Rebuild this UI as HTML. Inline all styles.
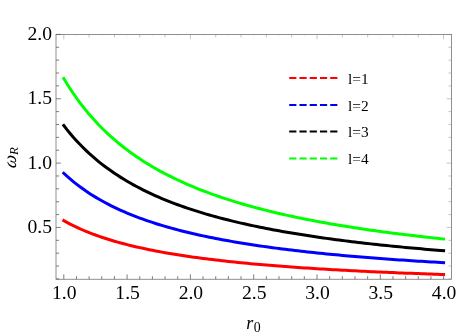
<!DOCTYPE html><html><head><meta charset="utf-8"><style>html,body{margin:0;padding:0;background:#fff}svg{display:block;will-change:transform}text{font-family:"Liberation Serif",serif;fill:#000}</style></head><body>
<svg width="458" height="335" viewBox="0 0 458 335">
<rect width="458" height="335" fill="#fff"/>
<polyline points="63.80,220.63 66.96,222.38 70.13,224.05 73.29,225.64 76.46,227.16 79.62,228.61 82.79,230.00 85.95,231.34 89.12,232.61 92.29,233.84 95.45,235.01 98.61,236.14 101.78,237.23 104.94,238.28 108.11,239.29 111.27,240.26 114.44,241.20 117.60,242.10 120.77,242.97 123.94,243.82 127.10,244.63 130.26,245.42 133.43,246.19 136.60,246.93 139.76,247.65 142.93,248.34 146.09,249.02 149.25,249.67 152.42,250.31 155.59,250.92 158.75,251.52 161.91,252.11 165.08,252.67 168.25,253.22 171.41,253.76 174.57,254.28 177.74,254.79 180.91,255.29 184.07,255.77 187.24,256.24 190.40,256.70 193.57,257.14 196.73,257.58 199.90,258.01 203.06,258.42 206.22,258.83 209.39,259.22 212.55,259.61 215.72,259.99 218.88,260.36 222.05,260.72 225.22,261.07 228.38,261.42 231.55,261.76 234.71,262.09 237.88,262.41 241.04,262.73 244.20,263.04 247.37,263.35 250.54,263.64 253.70,263.93 256.87,264.22 260.03,264.50 263.19,264.78 266.36,265.04 269.52,265.31 272.69,265.57 275.85,265.82 279.02,266.07 282.19,266.31 285.35,266.55 288.52,266.79 291.68,267.02 294.85,267.25 298.01,267.47 301.18,267.69 304.34,267.90 307.50,268.11 310.67,268.32 313.83,268.52 317.00,268.72 320.16,268.92 323.33,269.11 326.50,269.30 329.66,269.48 332.82,269.67 335.99,269.85 339.16,270.02 342.32,270.20 345.49,270.37 348.65,270.53 351.81,270.70 354.98,270.86 358.15,271.02 361.31,271.18 364.48,271.33 367.64,271.49 370.81,271.63 373.97,271.78 377.13,271.93 380.30,272.07 383.47,272.21 386.63,272.35 389.80,272.48 392.96,272.62 396.12,272.75 399.29,272.88 402.46,273.00 405.62,273.13 408.79,273.25 411.95,273.37 415.12,273.49 418.28,273.61 421.44,273.73 424.61,273.84 427.77,273.95 430.94,274.06 434.11,274.17 437.27,274.28 440.44,274.39 443.60,274.49" fill="none" stroke="#ff0000" stroke-width="3" stroke-linejoin="round" stroke-linecap="square"/>
<polyline points="63.80,173.27 66.96,176.17 70.13,178.94 73.29,181.58 76.46,184.11 79.62,186.52 82.79,188.82 85.95,191.03 89.12,193.15 92.29,195.18 95.45,197.12 98.61,199.00 101.78,200.80 104.94,202.53 108.11,204.20 111.27,205.81 114.44,207.37 117.60,208.86 120.77,210.31 123.94,211.71 127.10,213.06 130.26,214.37 133.43,215.63 136.60,216.86 139.76,218.05 142.93,219.20 146.09,220.31 149.25,221.40 152.42,222.45 155.59,223.47 158.75,224.46 161.91,225.42 165.08,226.36 168.25,227.27 171.41,228.16 174.57,229.02 177.74,229.86 180.91,230.68 184.07,231.48 187.24,232.26 190.40,233.02 193.57,233.76 196.73,234.48 199.90,235.18 203.06,235.87 206.22,236.54 209.39,237.20 212.55,237.84 215.72,238.46 218.88,239.07 222.05,239.67 225.22,240.26 228.38,240.83 231.55,241.39 234.71,241.94 237.88,242.47 241.04,243.00 244.20,243.51 247.37,244.01 250.54,244.51 253.70,244.99 256.87,245.46 260.03,245.93 263.19,246.38 266.36,246.83 269.52,247.27 272.69,247.69 275.85,248.12 279.02,248.53 282.19,248.93 285.35,249.33 288.52,249.72 291.68,250.10 294.85,250.48 298.01,250.85 301.18,251.21 304.34,251.57 307.50,251.92 310.67,252.26 313.83,252.60 317.00,252.93 320.16,253.26 323.33,253.58 326.50,253.90 329.66,254.21 332.82,254.51 335.99,254.81 339.16,255.11 342.32,255.40 345.49,255.68 348.65,255.96 351.81,256.24 354.98,256.51 358.15,256.78 361.31,257.04 364.48,257.30 367.64,257.56 370.81,257.81 373.97,258.05 377.13,258.30 380.30,258.54 383.47,258.77 386.63,259.01 389.80,259.23 392.96,259.46 396.12,259.68 399.29,259.90 402.46,260.12 405.62,260.33 408.79,260.54 411.95,260.74 415.12,260.95 418.28,261.15 421.44,261.35 424.61,261.54 427.77,261.73 430.94,261.92 434.11,262.11 437.27,262.29 440.44,262.47 443.60,262.65" fill="none" stroke="#0000ff" stroke-width="3" stroke-linejoin="round" stroke-linecap="square"/>
<polyline points="63.80,125.52 66.96,129.59 70.13,133.47 73.29,137.17 76.46,140.70 79.62,144.07 82.79,147.30 85.95,150.39 89.12,153.36 92.29,156.20 95.45,158.93 98.61,161.55 101.78,164.07 104.94,166.50 108.11,168.83 111.27,171.09 114.44,173.26 117.60,175.36 120.77,177.38 123.94,179.34 127.10,181.23 130.26,183.06 133.43,184.83 136.60,186.54 139.76,188.20 142.93,189.81 146.09,191.37 149.25,192.89 152.42,194.36 155.59,195.79 158.75,197.17 161.91,198.52 165.08,199.83 168.25,201.11 171.41,202.35 174.57,203.56 177.74,204.73 180.91,205.88 184.07,206.99 187.24,208.08 190.40,209.14 193.57,210.18 196.73,211.19 199.90,212.17 203.06,213.13 206.22,214.07 209.39,214.99 212.55,215.88 215.72,216.76 218.88,217.61 222.05,218.45 225.22,219.27 228.38,220.07 231.55,220.85 234.71,221.62 237.88,222.37 241.04,223.10 244.20,223.82 247.37,224.53 250.54,225.22 253.70,225.89 256.87,226.55 260.03,227.20 263.19,227.84 266.36,228.46 269.52,229.08 272.69,229.68 275.85,230.27 279.02,230.84 282.19,231.41 285.35,231.97 288.52,232.51 291.68,233.05 294.85,233.58 298.01,234.10 301.18,234.60 304.34,235.10 307.50,235.59 310.67,236.08 313.83,236.55 317.00,237.02 320.16,237.47 323.33,237.92 326.50,238.37 329.66,238.80 332.82,239.23 335.99,239.65 339.16,240.07 342.32,240.47 345.49,240.88 348.65,241.27 351.81,241.66 354.98,242.04 358.15,242.42 361.31,242.79 364.48,243.15 367.64,243.51 370.81,243.87 373.97,244.21 377.13,244.56 380.30,244.89 383.47,245.23 386.63,245.56 389.80,245.88 392.96,246.20 396.12,246.51 399.29,246.82 402.46,247.12 405.62,247.42 408.79,247.72 411.95,248.01 415.12,248.30 418.28,248.58 421.44,248.86 424.61,249.14 427.77,249.41 430.94,249.68 434.11,249.94 437.27,250.20 440.44,250.46 443.60,250.71" fill="none" stroke="#000000" stroke-width="3" stroke-linejoin="round" stroke-linecap="square"/>
<polyline points="63.80,78.54 66.96,83.76 70.13,88.73 73.29,93.47 76.46,97.99 79.62,102.32 82.79,106.45 85.95,110.41 89.12,114.21 92.29,117.85 95.45,121.35 98.61,124.71 101.78,127.94 104.94,131.04 108.11,134.04 111.27,136.92 114.44,139.71 117.60,142.39 120.77,144.98 123.94,147.49 127.10,149.91 130.26,152.25 133.43,154.52 136.60,156.72 139.76,158.84 142.93,160.90 146.09,162.90 149.25,164.84 152.42,166.73 155.59,168.56 158.75,170.33 161.91,172.06 165.08,173.74 168.25,175.37 171.41,176.96 174.57,178.50 177.74,180.01 180.91,181.48 184.07,182.90 187.24,184.30 190.40,185.65 193.57,186.98 196.73,188.27 199.90,189.53 203.06,190.76 206.22,191.96 209.39,193.14 212.55,194.29 215.72,195.41 218.88,196.50 222.05,197.57 225.22,198.62 228.38,199.64 231.55,200.65 234.71,201.63 237.88,202.59 241.04,203.53 244.20,204.45 247.37,205.35 250.54,206.24 253.70,207.10 256.87,207.95 260.03,208.78 263.19,209.60 266.36,210.40 269.52,211.18 272.69,211.95 275.85,212.70 279.02,213.45 282.19,214.17 285.35,214.89 288.52,215.59 291.68,216.27 294.85,216.95 298.01,217.61 301.18,218.27 304.34,218.91 307.50,219.53 310.67,220.15 313.83,220.76 317.00,221.36 320.16,221.95 323.33,222.52 326.50,223.09 329.66,223.65 332.82,224.20 335.99,224.74 339.16,225.27 342.32,225.79 345.49,226.31 348.65,226.82 351.81,227.32 354.98,227.81 358.15,228.29 361.31,228.77 364.48,229.23 367.64,229.70 370.81,230.15 373.97,230.60 377.13,231.04 380.30,231.47 383.47,231.90 386.63,232.32 389.80,232.74 392.96,233.15 396.12,233.55 399.29,233.95 402.46,234.34 405.62,234.73 408.79,235.11 411.95,235.48 415.12,235.86 418.28,236.22 421.44,236.58 424.61,236.94 427.77,237.29 430.94,237.63 434.11,237.97 437.27,238.31 440.44,238.64 443.60,238.97" fill="none" stroke="#00ff00" stroke-width="3" stroke-linejoin="round" stroke-linecap="square"/>
<rect x="56.0" y="34.4" width="395.5" height="244.85" fill="none" stroke="#747474" stroke-width="0.8"/>
<path d="M63.80 279.25v-4.9 M76.46 279.25v-3.1 M89.12 279.25v-3.1 M101.78 279.25v-3.1 M114.44 279.25v-3.1 M127.10 279.25v-4.9 M139.76 279.25v-3.1 M152.42 279.25v-3.1 M165.08 279.25v-3.1 M177.74 279.25v-3.1 M190.40 279.25v-4.9 M203.06 279.25v-3.1 M215.72 279.25v-3.1 M228.38 279.25v-3.1 M241.04 279.25v-3.1 M253.70 279.25v-4.9 M266.36 279.25v-3.1 M279.02 279.25v-3.1 M291.68 279.25v-3.1 M304.34 279.25v-3.1 M317.00 279.25v-4.9 M329.66 279.25v-3.1 M342.32 279.25v-3.1 M354.98 279.25v-3.1 M367.64 279.25v-3.1 M380.30 279.25v-4.9 M392.96 279.25v-3.1 M405.62 279.25v-3.1 M418.28 279.25v-3.1 M430.94 279.25v-3.1 M443.60 279.25v-4.9 M56.0 278.93h3.1 M56.0 266.06h3.1 M56.0 253.19h3.1 M56.0 240.32h3.1 M56.0 227.45h4.9 M56.0 214.58h3.1 M56.0 201.71h3.1 M56.0 188.84h3.1 M56.0 175.97h3.1 M56.0 163.10h4.9 M56.0 150.23h3.1 M56.0 137.36h3.1 M56.0 124.49h3.1 M56.0 111.62h3.1 M56.0 98.75h4.9 M56.0 85.88h3.1 M56.0 73.01h3.1 M56.0 60.14h3.1 M56.0 47.27h3.1 M56.0 34.40h4.9" stroke="#606060" stroke-width="0.8" fill="none"/>
<path d="M63.80 34.4v4.9 M89.12 34.4v3.1 M114.44 34.4v3.1 M139.76 34.4v3.1 M165.08 34.4v3.1 M190.40 34.4v4.9 M215.72 34.4v3.1 M241.04 34.4v3.1 M266.36 34.4v3.1 M291.68 34.4v3.1 M317.00 34.4v4.9 M342.32 34.4v3.1 M367.64 34.4v3.1 M392.96 34.4v3.1 M418.28 34.4v3.1 M443.60 34.4v4.9 M451.5 278.93h-3.1 M451.5 266.06h-3.1 M451.5 253.19h-3.1 M451.5 240.32h-3.1 M451.5 227.45h-4.9 M451.5 214.58h-3.1 M451.5 201.71h-3.1 M451.5 188.84h-3.1 M451.5 175.97h-3.1 M451.5 163.10h-4.9 M451.5 150.23h-3.1 M451.5 137.36h-3.1 M451.5 124.49h-3.1 M451.5 111.62h-3.1 M451.5 98.75h-4.9 M451.5 85.88h-3.1 M451.5 73.01h-3.1 M451.5 60.14h-3.1 M451.5 47.27h-3.1 M451.5 34.40h-4.9" stroke="#808080" stroke-opacity="0.75" stroke-width="0.6" fill="none"/>
<path d="M76.46 34.4v3.1 M101.78 34.4v3.1 M127.10 34.4v4.9 M152.42 34.4v3.1 M177.74 34.4v3.1 M203.06 34.4v3.1 M228.38 34.4v3.1 M253.70 34.4v4.9 M279.02 34.4v3.1 M304.34 34.4v3.1 M329.66 34.4v3.1 M354.98 34.4v3.1 M380.30 34.4v4.9 M405.62 34.4v3.1 M430.94 34.4v3.1" stroke="#808080" stroke-opacity="0.12" stroke-width="0.6" fill="none"/>
<text x="64.30" y="299.1" font-size="19.6" text-anchor="middle">1.0</text>
<text x="127.60" y="299.1" font-size="19.6" text-anchor="middle">1.5</text>
<text x="190.90" y="299.1" font-size="19.6" text-anchor="middle">2.0</text>
<text x="254.20" y="299.1" font-size="19.6" text-anchor="middle">2.5</text>
<text x="317.50" y="299.1" font-size="19.6" text-anchor="middle">3.0</text>
<text x="380.80" y="299.1" font-size="19.6" text-anchor="middle">3.5</text>
<text x="444.10" y="299.1" font-size="19.6" text-anchor="middle">4.0</text>
<text x="52" y="233.05" font-size="19.6" text-anchor="end">0.5</text>
<text x="52" y="168.70" font-size="19.6" text-anchor="end">1.0</text>
<text x="52" y="104.35" font-size="19.6" text-anchor="end">1.5</text>
<text x="52" y="40.00" font-size="19.6" text-anchor="end">2.0</text>
<text x="246.2" y="329" font-size="18" font-style="italic">r</text><text x="253.7" y="331.9" font-size="13.8">0</text>
<g transform="translate(16.1,168.8) rotate(-90)"><text x="0" y="0" font-size="18.5" font-style="italic" transform="skewX(-10)">ω</text><text x="13.7" y="1.8" font-size="13" font-style="italic">R</text></g>
<line x1="289.2" x2="337.4" y1="78.1" y2="78.1" stroke="#ff0000" stroke-width="2" stroke-dasharray="7.2 3.05"/>
<text x="348" y="83.70" font-size="15.4">l=1</text>
<line x1="289.2" x2="337.4" y1="104.9" y2="104.9" stroke="#0000ff" stroke-width="2" stroke-dasharray="7.2 3.05"/>
<text x="348" y="110.50" font-size="15.4">l=2</text>
<line x1="289.2" x2="337.4" y1="131.6" y2="131.6" stroke="#000000" stroke-width="2" stroke-dasharray="7.2 3.05"/>
<text x="348" y="137.20" font-size="15.4">l=3</text>
<line x1="289.2" x2="337.4" y1="158.4" y2="158.4" stroke="#00ff00" stroke-width="2" stroke-dasharray="7.2 3.05"/>
<text x="348" y="164.00" font-size="15.4">l=4</text>
</svg></body></html>
